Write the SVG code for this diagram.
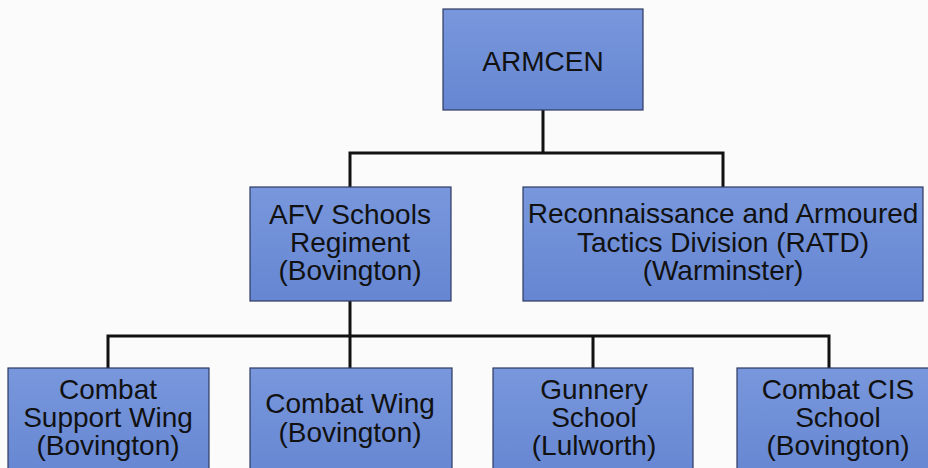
<svg xmlns="http://www.w3.org/2000/svg" width="928" height="468" viewBox="0 0 928 468">
<defs>
<linearGradient id="g" x1="0" y1="0" x2="0" y2="1">
<stop offset="0" stop-color="#7897dc"/>
<stop offset="1" stop-color="#6686d2"/>
</linearGradient>
<style>
.box{fill:url(#g);stroke:#2e3a62;stroke-width:1.2}
.t{font-family:"Liberation Sans",Arial,sans-serif;font-size:28px;fill:#111;text-anchor:middle}
.c{fill:none;stroke:#111;stroke-width:3}
</style>
</defs>
<rect width="928" height="468" fill="#fbfbfb"/>
<g id="connectors">
<path class="c" d="M543 110V153M350 153H723M350 151.5V187M723 151.5V187"/>
<path class="c" d="M350 301V336M108 336H829M108 334.5V368M350 334.5V368M593 334.5V368M829 334.5V368"/>
</g>
<g id="armcen"><rect class="box" x="443" y="9" width="200" height="101"/><text class="t" x="543" y="71">ARMCEN</text></g>
<g id="afv"><rect class="box" x="250" y="187" width="201" height="114"/><text class="t" x="350" y="224">AFV Schools<tspan x="350" dy="28">Regiment</tspan><tspan x="350" dy="28">(Bovington)</tspan></text></g>
<g id="ratd"><rect class="box" x="523" y="187" width="400" height="114"/><text class="t" x="723" y="223">Reconnaissance and Armoured<tspan x="723" dy="28.5">Tactics Division (RATD)</tspan><tspan x="723" dy="28.5">(Warminster)</tspan></text></g>
<g id="csw"><rect class="box" x="8" y="368" width="201" height="110"/><text class="t" x="108" y="399">Combat<tspan x="108" dy="28">Support Wing</tspan><tspan x="108" dy="28">(Bovington)</tspan></text></g>
<g id="cw"><rect class="box" x="250" y="368" width="202" height="110"/><text class="t" x="350" y="413">Combat Wing<tspan x="350" dy="29">(Bovington)</tspan></text></g>
<g id="gunnery"><rect class="box" x="493" y="368" width="200" height="110"/><text class="t" x="594" y="399">Gunnery<tspan x="594" dy="28">School</tspan><tspan x="594" dy="28">(Lulworth)</tspan></text></g>
<g id="cis"><rect class="box" x="737" y="368" width="203" height="110"/><text class="t" x="838" y="399">Combat CIS<tspan x="838" dy="28">School</tspan><tspan x="838" dy="28">(Bovington)</tspan></text></g>
</svg>
